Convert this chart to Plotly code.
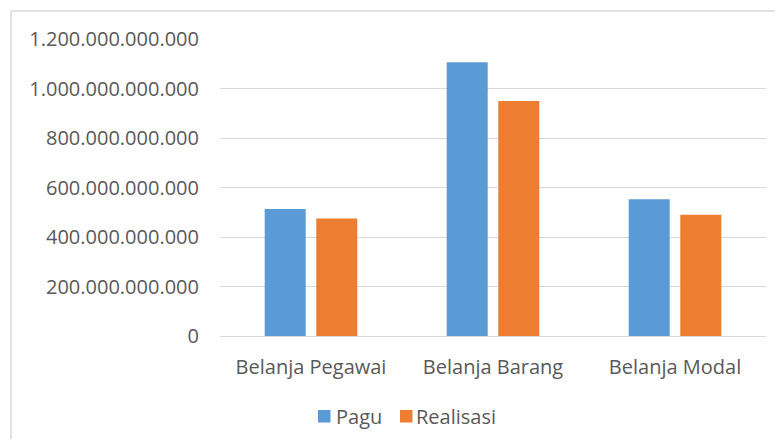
import plotly.graph_objects as go

categories = ["Belanja Pegawai", "Belanja Barang", "Belanja Modal"]
pagu = [513e9, 1106e9, 553e9]
realisasi = [475e9, 949e9, 490e9]
y_ticks = [0, 200e9, 400e9, 600e9, 800e9, 1000e9, 1200e9]
series_names = ["Pagu", "Realisasi"]
series_colors = ["#5B9BD5", "#ED7D31"]

FONT = "Open Sans"
TXT = "#595959"
FS = 20

# page coordinates (browser body has an 8px margin on every side)
OFF = 8
PL, PR, PT, PB = 220, 766, 39, 336
W, H = 783 - 2 * OFF, 447 - 2 * OFF


def px(x):
    return (x - PL) / (PR - PL)


def py(y):
    return (PB - y) / (PB - PT)


fig = go.Figure()
for name, vals, col in zip(series_names, [pagu, realisasi], series_colors):
    fig.add_trace(go.Bar(name=name, x=categories, y=vals,
                         marker=dict(color=col, line=dict(width=0))))

border = dict(color="#D9D9D9", width=1.5)
shapes = [
    dict(type="line", xref="paper", yref="paper", x0=px(11), x1=px(783 - OFF + 4),
         y0=py(11), y1=py(11), line=border, layer="below"),
    dict(type="line", xref="paper", yref="paper", x0=px(11), x1=px(11),
         y0=py(11), y1=py(447), line=border, layer="below"),
]
annotations = []
legend_sq = [318, 400]
legend_txt = [336, 416]
for name, col, sx, tx in zip(series_names, series_colors, legend_sq, legend_txt):
    shapes.append(dict(type="rect", xref="paper", yref="paper",
                       x0=px(sx), x1=px(sx + 12.5), y0=py(422.5), y1=py(410),
                       line=dict(width=0), fillcolor=col))
    annotations.append(dict(xref="paper", yref="paper", x=px(tx), y=py(416),
                            xanchor="left", yanchor="middle", text=name,
                            showarrow=False, xshift=-2,
                            font=dict(family=FONT, size=FS, color=TXT)))

fig.update_layout(
    width=W, height=H,
    margin=dict(l=PL - OFF, r=W - (PR - OFF), t=PT - OFF, b=H - (PB - OFF)),
    paper_bgcolor="white", plot_bgcolor="white",
    separators=",.",
    barmode="group", bargap=0.433, bargroupgap=0.205,
    font=dict(family=FONT, size=FS, color=TXT),
    showlegend=False,
    shapes=shapes, annotations=annotations,
)
fig.update_xaxes(showgrid=False, showline=False, zeroline=False, ticks="",
                 tickfont=dict(family=FONT, size=FS, color=TXT), ticklabelstandoff=17)
fig.update_yaxes(range=[0, 1200e9], tickvals=y_ticks, tickformat=",d",
                 showgrid=True, gridcolor="#D9D9D9", gridwidth=1.3,
                 zeroline=True, zerolinecolor="#D9D9D9", zerolinewidth=1.3,
                 showline=False, ticks="", ticklabelstandoff=20,
                 tickfont=dict(family=FONT, size=FS, color=TXT))

fig.write_html("out.html")
